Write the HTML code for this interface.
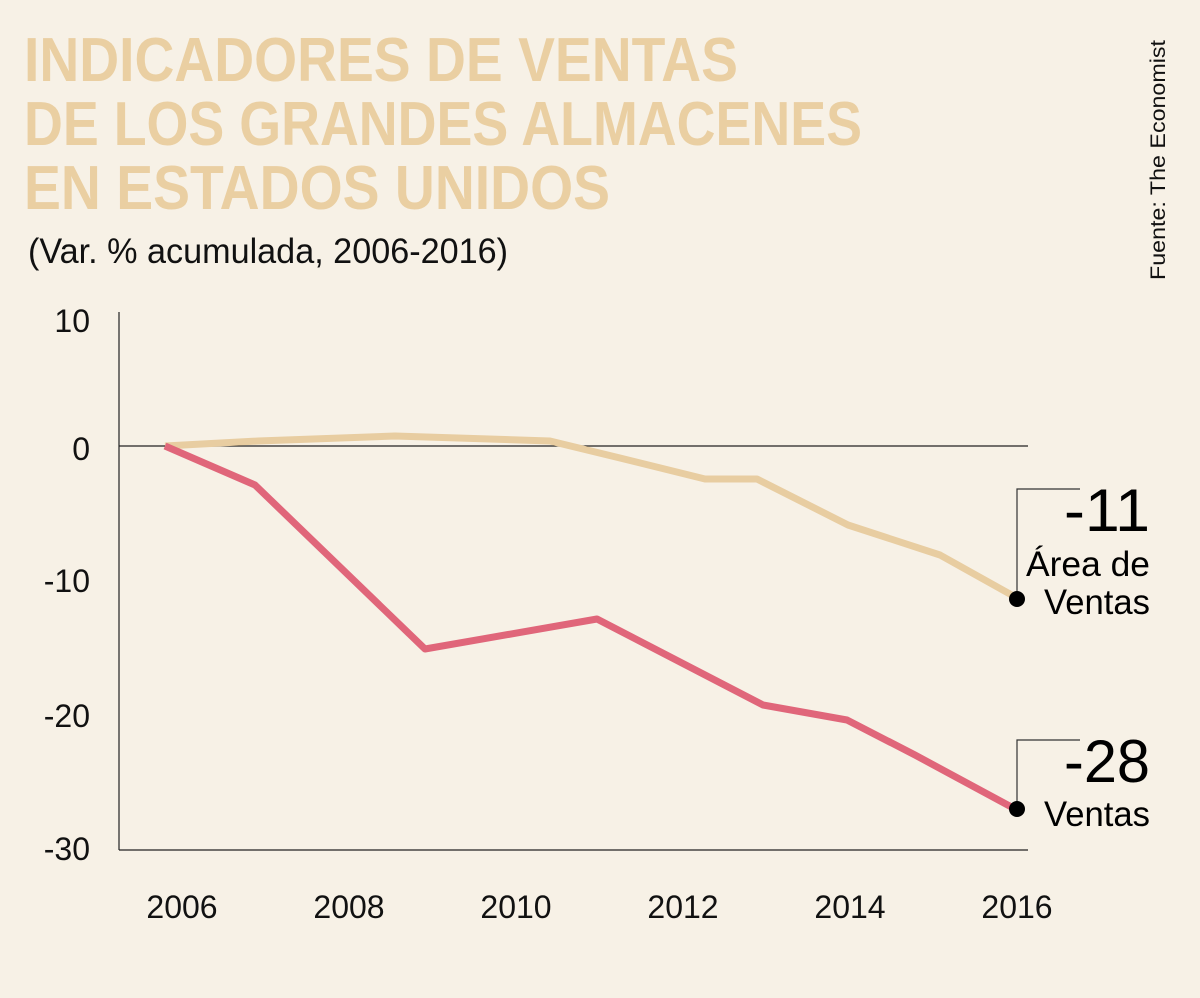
<!DOCTYPE html>
<html><head><meta charset="utf-8"><style>
html,body{margin:0;padding:0;background:#f7f1e6;}
svg{display:block}
</style></head><body>
<svg width="1200" height="998" viewBox="0 0 1200 998" xmlns="http://www.w3.org/2000/svg">
<rect width="1200" height="998" fill="#f7f1e6"/>
<g font-family="Liberation Sans, sans-serif" font-weight="bold" fill="#eacfa2" font-size="62">
<text x="24" y="81" textLength="714" lengthAdjust="spacingAndGlyphs">INDICADORES DE VENTAS</text>
<text x="24" y="145" textLength="838" lengthAdjust="spacingAndGlyphs">DE LOS GRANDES ALMACENES</text>
<text x="24" y="209" textLength="586" lengthAdjust="spacingAndGlyphs">EN ESTADOS UNIDOS</text>
</g>
<text x="28" y="263" font-family="Liberation Sans, sans-serif" font-size="35" fill="#111" textLength="480" lengthAdjust="spacingAndGlyphs">(Var. % acumulada, 2006-2016)</text>
<text transform="translate(1165,280) rotate(-90)" font-family="Liberation Sans, sans-serif" font-size="21" fill="#111" textLength="240" lengthAdjust="spacingAndGlyphs">Fuente: The Economist</text>
<g stroke="#222" stroke-width="1.2" fill="none">
<line x1="119" y1="312" x2="119" y2="850"/>
<line x1="119" y1="446" x2="1028" y2="446"/>
<line x1="119" y1="850" x2="1028" y2="850"/>
</g>
<g font-family="Liberation Sans, sans-serif" font-size="32" fill="#111" text-anchor="end">
<text x="90" y="332">10</text>
<text x="90" y="460">0</text>
<text x="90" y="592">-10</text>
<text x="90" y="727">-20</text>
<text x="90" y="860">-30</text>
</g>
<g font-family="Liberation Sans, sans-serif" font-size="32" fill="#111" text-anchor="middle">
<text x="182" y="918">2006</text>
<text x="349" y="918">2008</text>
<text x="516" y="918">2010</text>
<text x="683" y="918">2012</text>
<text x="850" y="918">2014</text>
<text x="1017" y="918">2016</text>
</g>
<polyline fill="none" stroke="#e8cda1" stroke-width="7" stroke-linejoin="round" points="165,446 258,441 395,436 550,441 620,458 705,479 757,479 848,525 940,555 1017,598"/>
<polyline fill="none" stroke="#e0667a" stroke-width="7" stroke-linejoin="round" points="165,446 255,485 425,649 597,619 763,705 847,720 915,755 1017,810"/>
<g stroke="#333" stroke-width="1.2" fill="none">
<polyline points="1017,598 1017,489 1080,489"/>
<polyline points="1017,809 1017,740 1080,740"/>
</g>
<circle cx="1017" cy="599" r="8" fill="#000"/>
<circle cx="1017" cy="809" r="8" fill="#000"/>
<g font-family="Liberation Sans, sans-serif" fill="#000" text-anchor="end">
<text x="1150" y="531" font-size="60" textLength="86" lengthAdjust="spacingAndGlyphs">-11</text>
<text x="1150" y="576" font-size="35" textLength="124" lengthAdjust="spacingAndGlyphs">Área de</text>
<text x="1150" y="614" font-size="35" textLength="106" lengthAdjust="spacingAndGlyphs">Ventas</text>
<text x="1150" y="782" font-size="60" textLength="86" lengthAdjust="spacingAndGlyphs">-28</text>
<text x="1150" y="826" font-size="35" textLength="106" lengthAdjust="spacingAndGlyphs">Ventas</text>
</g>
</svg>
</body></html>
